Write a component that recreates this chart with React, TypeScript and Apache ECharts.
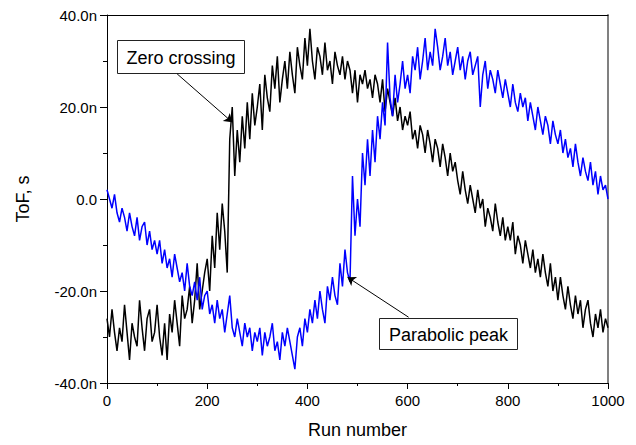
import React, { useEffect, useRef } from 'react';
import * as echarts from 'echarts';

// Sampled every 5 runs (run 0 .. 1000), ToF in ns
const runStep = 5;

const zeroCrossing = [
  -26, -30, -24, -29, -33, -28, -31, -23, -29, -35, -27, -30, -32, -22, -28, -33, -26, -24, -31, -29,
  -23, -30, -34, -27, -35, -25, -29, -22, -27, -32, -21, -26, -24, -19, -27, -22, -14, -24, -20, -16,
  -13, -20, -8, -15, -3, -11, -1, -7, -16, 13, 20, 5, 15, 8, 18, 11, 21, 13, 23, 16,
  20, 25, 15, 27, 22, 19, 29, 24, 31, 21, 26, 30, 24, 32, 27, 23, 33, 29, 26, 35,
  29, 37, 30, 26, 33, 31, 27, 34, 28, 30, 25, 32, 29, 27, 31, 26, 30, 28, 23, 28,
  21, 27, 25, 28, 24, 26, 22, 27, 25, 21, 26, 19, 24, 21, 18, 22, 17, 20, 15, 18,
  16, 19, 13, 15, 11, 16, 14, 10, 15, 12, 8, 13, 11, 7, 12, 9, 5, 10, 6, 8,
  4, 1, 6, 2, -1, 3, 0, -3, 2, -2, 0, -6, -2, -4, -7, -1, -5, -8, -4, -9,
  -6, -9, -5, -12, -8, -10, -14, -9, -12, -15, -11, -16, -13, -17, -12, -16, -19, -14, -20, -17,
  -22, -17, -21, -24, -19, -23, -26, -21, -25, -22, -28, -24, -22, -27, -30, -25, -28, -24, -29, -26,
  -28,
];

const parabolicPeak = [
  2, 0, -2, 1, -3, -5, -2, -4, -7, -3, -6, -8, -4, -9, -6, -5, -10, -7, -11, -9,
  -12, -9, -14, -11, -15, -13, -17, -12, -15, -18, -16, -20, -14, -19, -21, -18, -22, -17, -24, -21,
  -20, -25, -23, -27, -22, -26, -24, -29, -25, -21, -28, -30, -26, -29, -32, -27, -30, -28, -33, -29,
  -31, -28, -34, -29, -32, -30, -27, -33, -31, -35, -29, -32, -28, -31, -34, -37, -30, -28, -32, -26,
  -29, -24, -27, -22, -26, -20, -24, -27, -19, -22, -17, -21, -23, -14, -19, -11, -16, -18, 5, -8,
  0, -6, 10, 3, 13, 5, 15, 8, 18, 13, 21, 16, 34, 22, 18, 27, 21, 25, 30, 24,
  27, 23, 31, 28, 33, 26, 30, 35, 28, 32, 29, 37, 33, 28, 31, 35, 29, 32, 27, 30,
  33, 28, 31, 26, 30, 32, 27, 29, 31, 20, 27, 30, 24, 28, 26, 23, 28, 25, 22, 26,
  23, 20, 25, 21, 19, 23, 20, 22, 17, 21, 18, 15, 20, 17, 14, 18, 16, 12, 17, 14,
  12, 15, 10, 13, 9, 11, 7, 12, 8, 5, 9, 6, 4, 8, 3, 6, 1, 5, 2, 3,
  0,
];

// Annotation arrows: [fromRun, fromToF, toRun, toToF]
const zeroArrow = [140, 27.2, 250, 16.7];
const peakArrow = [602, -25.7, 480, -17];

const FONT = 'Liberation Sans, Arial, Helvetica, sans-serif';

export default function App() {
  const ref = useRef<HTMLDivElement>(null);
  useEffect(() => {
    const chart = echarts.init(ref.current as HTMLDivElement, null, { renderer: 'svg' });
    const toPairs = (vals: number[]) => vals.map((v, i) => [i * runStep, v]);
    const arrow = (a: number[]) => ({
      silent: true,
      symbol: ['none', 'arrow'],
      symbolSize: 8,
      label: { show: false },
      lineStyle: { color: '#000', width: 1, type: 'solid' },
      emphasis: { disabled: true },
      data: [[{ coord: [a[0], a[1]] }, { coord: [a[2], a[3]] }]],
    });
    chart.setOption({
      animation: false,
      backgroundColor: '#ffffff',
      grid: { left: 107, right: 28, top: 15, bottom: 62 },
      xAxis: [
        {
          type: 'value', min: 0, max: 1000, interval: 200, position: 'bottom',
          name: 'Run number', nameLocation: 'middle', nameGap: 38,
          nameTextStyle: { fontSize: 18, color: '#000', fontFamily: FONT },
          axisLine: { show: true, onZero: false, lineStyle: { color: '#000', width: 1 } },
          axisTick: { show: true, length: 6, lineStyle: { color: '#000' } },
          minorTick: { show: true, splitNumber: 2, length: 3, lineStyle: { color: '#000' } },
          axisLabel: { fontSize: 15, color: '#000', margin: 10, fontFamily: FONT, formatter: (v: number) => String(v) },
          splitLine: { show: false },
          minorSplitLine: { show: false },
        },
        {
          type: 'value', min: 0, max: 1000, position: 'top',
          axisLine: { show: true, onZero: false, lineStyle: { color: '#000', width: 1 } },
          axisTick: { show: false }, axisLabel: { show: false }, splitLine: { show: false },
        },
      ],
      yAxis: [
        {
          type: 'value', min: -40, max: 40, interval: 20, position: 'left',
          name: 'ToF, s', nameLocation: 'middle', nameGap: 75,
          nameTextStyle: { fontSize: 18, color: '#000', fontFamily: FONT },
          axisLine: { show: true, onZero: false, lineStyle: { color: '#000', width: 1 } },
          axisTick: { show: true, length: 7, lineStyle: { color: '#000' } },
          minorTick: { show: true, splitNumber: 2, length: 4, lineStyle: { color: '#000' } },
          axisLabel: {
            fontSize: 15, color: '#000', margin: 10, fontFamily: FONT,
            formatter: (v: number) => (v === 0 ? '0.0' : v.toFixed(1) + 'n'),
          },
          splitLine: { show: false },
          minorSplitLine: { show: false },
        },
        {
          type: 'value', min: -40, max: 40, position: 'right',
          axisLine: { show: true, onZero: false, lineStyle: { color: '#808080', width: 2 } },
          axisTick: { show: false }, axisLabel: { show: false }, splitLine: { show: false },
        },
      ],
      series: [
        {
          name: 'Zero crossing', type: 'line', xAxisIndex: 0, yAxisIndex: 0,
          data: toPairs(zeroCrossing), showSymbol: false, symbol: 'none',
          lineStyle: { color: '#000000', width: 1.5 }, itemStyle: { color: '#000000' },
          emphasis: { disabled: true },
          markLine: arrow(zeroArrow),
        },
        {
          name: 'Parabolic peak', type: 'line', xAxisIndex: 0, yAxisIndex: 0,
          data: toPairs(parabolicPeak), showSymbol: false, symbol: 'none',
          lineStyle: { color: '#0000ff', width: 1.5 }, itemStyle: { color: '#0000ff' },
          emphasis: { disabled: true },
          markLine: arrow(peakArrow),
        },
      ],
      graphic: [
        {
          type: 'group', left: 117, top: 40,
          children: [
            { type: 'rect', shape: { x: 0, y: 0, width: 127, height: 33 }, style: { fill: '#fff', stroke: '#222', lineWidth: 1 } },
            { type: 'text', x: 63.5, y: 17, style: { text: 'Zero crossing', fontSize: 18, fontFamily: FONT, fill: '#000', align: 'center', verticalAlign: 'middle' } },
          ],
        },
        {
          type: 'group', left: 379, top: 318,
          children: [
            { type: 'rect', shape: { x: 0, y: 0, width: 138, height: 31 }, style: { fill: '#fff', stroke: '#222', lineWidth: 1 } },
            { type: 'text', x: 69, y: 16, style: { text: 'Parabolic peak', fontSize: 18, fontFamily: FONT, fill: '#000', align: 'center', verticalAlign: 'middle' } },
          ],
        },
      ],
    });
    return () => chart.dispose();
  }, []);
  return <div ref={ref} style={{ position: 'fixed', left: 0, top: 0, width: 636, height: 445 }} />;
}
